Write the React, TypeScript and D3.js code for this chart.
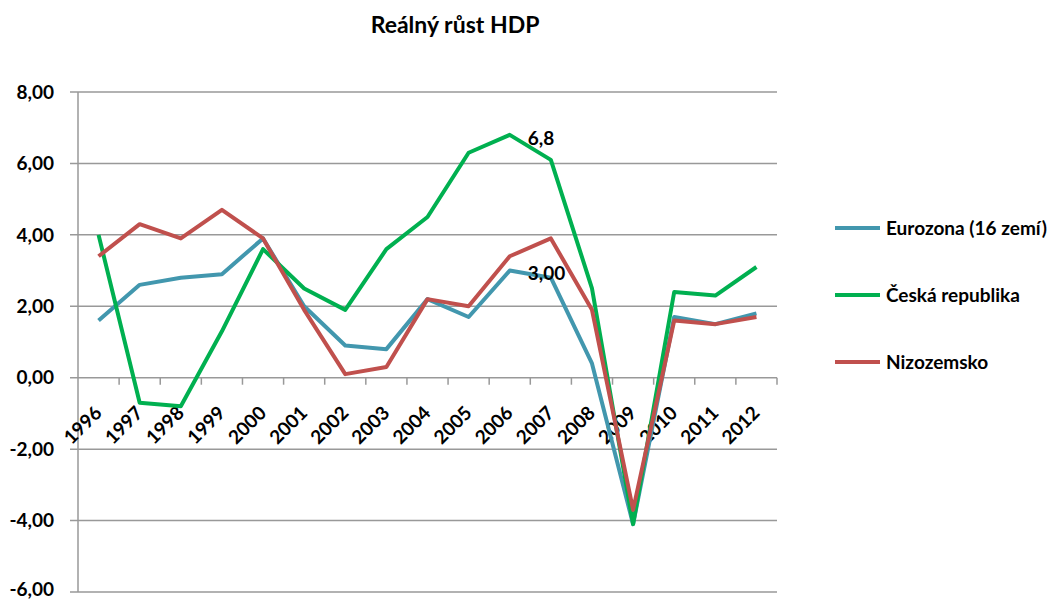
import React from 'react';
import * as d3 from 'd3';

const years = ['1996', '1997', '1998', '1999', '2000', '2001', '2002', '2003', '2004',
  '2005', '2006', '2007', '2008', '2009', '2010', '2011', '2012'];

const eurozona = [1.6, 2.6, 2.8, 2.9, 3.9, 2.0, 0.9, 0.8, 2.2, 1.7, 3.0, 2.8, 0.4, -4.1, 1.7, 1.5, 1.8];
const ceskaRepublika = [4.0, -0.7, -0.8, 1.3, 3.6, 2.5, 1.9, 3.6, 4.5, 6.3, 6.8, 6.1, 2.5, -4.1, 2.4, 2.3, 3.1];
const nizozemsko = [3.4, 4.3, 3.9, 4.7, 3.9, 1.9, 0.1, 0.3, 2.2, 2.0, 3.4, 3.9, 1.9, -3.7, 1.6, 1.5, 1.7];

const seriesNames = ['Eurozona (16 zemí)', 'Česká republika', 'Nizozemsko'];
const seriesColors = ['#4297AE', '#00B050', '#C0504D'];
const yTicks = [-6, -4, -2, 0, 2, 4, 6, 8];

// point labels shown in the original: [series index, year index, text]
const pointLabels: [number, number, string][] = [
  [1, 10, '6,8'],
  [0, 10, '3,00'],
];

const W = 1061;
const H = 600;
const FONT = 'Lato, "Open Sans", sans-serif';
const FS = 19;

export default function App() {
  const series = [eurozona, ceskaRepublika, nizozemsko];

  const x = d3.scaleBand<string>().domain(years).range([78, 777]);
  const y = d3.scaleLinear().domain([-6, 8]).range([592, 92]);
  const cx = (i: number) => (x(years[i]) as number) + x.bandwidth() / 2;

  const line = d3.line<number>()
    .x((_, i) => cx(i))
    .y(d => y(d));

  const fmt = (v: number) => d3.format('.2f')(v).replace('.', ',').replace('−', '-');

  return (
    <svg width={W} height={H} style={{ position: 'absolute', left: 0, top: 0, background: '#fff' }}
      fontFamily={FONT}>
      <text x={455} y={33} textAnchor="middle" fontSize={23} fontWeight="bold" fill="#000">
        Reálný růst HDP
      </text>

      {/* gridlines + y ticks */}
      {yTicks.map(t => (
        <g key={t}>
          <line x1={70} x2={777} y1={y(t)} y2={y(t)} stroke="#999" strokeWidth={1.5} />
          <text x={54} y={Math.min(y(t), 590)} dy={t === -6 ? '0.3em' : '0.35em'} textAnchor="end"
            fontSize={FS} fontWeight="bold" fill="#000">
            {fmt(t)}
          </text>
        </g>
      ))}

      {/* y axis */}
      <line x1={78} x2={78} y1={y(8)} y2={y(-6)} stroke="#999" strokeWidth={1.5} />

      {/* x axis ticks at zero line */}
      {years.map(yr => (
        <line key={yr} x1={(x(yr) as number) + x.bandwidth()} x2={(x(yr) as number) + x.bandwidth()}
          y1={y(0)} y2={y(0) + 7} stroke="#999" strokeWidth={1.5} />
      ))}

      {/* x labels */}
      {years.map((yr, i) => (
        <text key={yr} transform={`translate(${cx(i) - 5},${y(0) + 27}) rotate(-45)`}
          textAnchor="end" dy="0.7em" fontSize={FS} fontWeight="bold" fill="#000">
          {yr}
        </text>
      ))}

      {/* lines */}
      {series.map((s, k) => (
        <path key={k} d={line(s) ?? ''} fill="none" stroke={seriesColors[k]} strokeWidth={4}
          strokeLinejoin="round" />
      ))}

      {/* data labels */}
      {pointLabels.map(([k, i, t]) => (
        <text key={t} x={cx(i) + 18} y={y(series[k][i]) + 3} dy="0.35em" fontSize={FS}
          fontWeight="bold" fill="#000">
          {t}
        </text>
      ))}

      {/* legend */}
      {seriesNames.map((n, k) => (
        <g key={n} transform={`translate(835,${228 + k * 67})`}>
          <line x1={0} x2={45} y1={0} y2={0} stroke={seriesColors[k]} strokeWidth={4} />
          <text x={51} y={0} dy="0.35em" fontSize={FS} fontWeight="bold" fill="#000">{n}</text>
        </g>
      ))}
    </svg>
  );
}
